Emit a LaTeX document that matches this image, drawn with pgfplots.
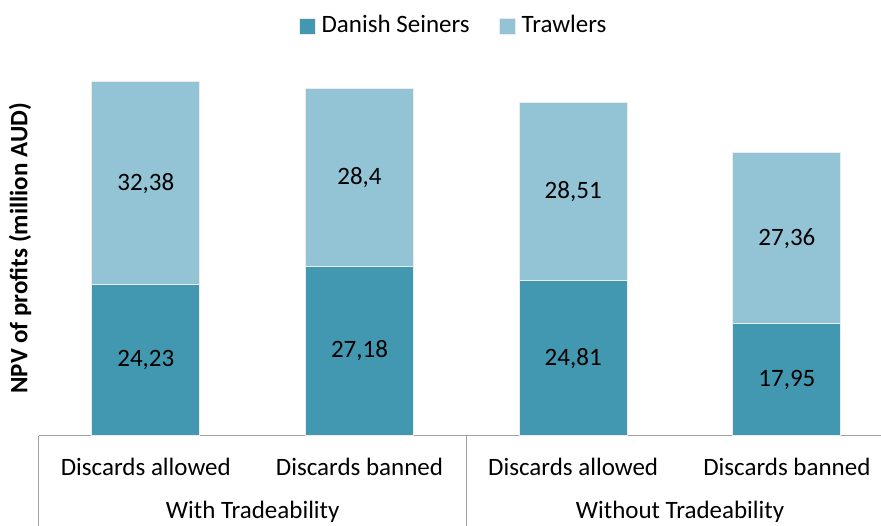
\documentclass[border=0pt]{standalone}
\usepackage{fontspec}
\setmainfont{Carlito}
\usepackage{pgfplots}
\pgfplotsset{compat=1.18}
\definecolor{seiner}{HTML}{4298B0}
\definecolor{trawl}{HTML}{93C4D5}
\definecolor{sep}{HTML}{A0A0A0}
\begin{document}
\fontsize{25}{30}\selectfont
\begin{tikzpicture}
\useasboundingbox (-39pt,-90pt) rectangle (842pt,436pt);
\clip (-39pt,-90pt) rectangle (842pt,436pt);
\begin{axis}[
  scale only axis,
  width=854.7pt, height=375.2pt,
  xmin=-0.5, xmax=3.5, ymin=0, ymax=60,
  clip=false,
  ybar stacked, bar width=108pt,
  axis line style={draw=none},
  ytick=\empty,
  xtick={0,1,2,3},
  xticklabels={Discards allowed,Discards banned,Discards allowed,Discards banned},
  major tick length=0pt,
  xticklabel style={anchor=base, yshift=-40pt},
  /pgf/number format/assume math mode=true,
  /pgf/number format/use comma,
  /pgf/number format/fixed,
  /pgf/number format/precision=2,
  ylabel={\bfseries NPV of profits (million AUD)},
  ylabel style={at={(axis description cs:-0.0222,0.5)}, anchor=center},
  point meta=rawy,
  nodes near coords,
  nodes near coords align={center},
  every node near coord/.append style={anchor=center, text=black},
  legend columns=2,
  legend style={draw=none, fill=none, at={(axis description cs:0.4850,1.0925)}, anchor=center,
    /tikz/every odd column/.append style={column sep=4pt},
    /tikz/every even column/.append style={column sep=27pt}},
  legend image code/.code={\fill[#1] (0pt,-8pt) rectangle (16pt,8pt);},
]
\addplot[fill=seiner, draw=white!92!black, line width=1pt] coordinates {(0,24.23) (1,27.18) (2,24.81) (3,17.95)};
\addplot[fill=trawl, draw=white!92!black, line width=1pt] coordinates {(0,32.38) (1,28.4) (2,28.51) (3,27.36)};
\legend{Danish Seiners,Trawlers}
\draw[sep, line width=1pt] (axis cs:-0.5,0) -- (axis cs:3.5,0);
\draw[sep, line width=1pt] (axis cs:-0.5,0) -- ++(0pt,-100pt);
\draw[sep, line width=1pt] (axis cs:1.5,0) -- ++(0pt,-100pt);
\draw[sep, line width=1pt] (axis cs:3.5,0) -- ++(0pt,-100pt);
\node[anchor=base, yshift=-83pt] at (axis cs:0.5,0) {With Tradeability};
\node[anchor=base, yshift=-83pt] at (axis cs:2.5,0) {Without Tradeability};
\end{axis}
\end{tikzpicture}
\end{document}
